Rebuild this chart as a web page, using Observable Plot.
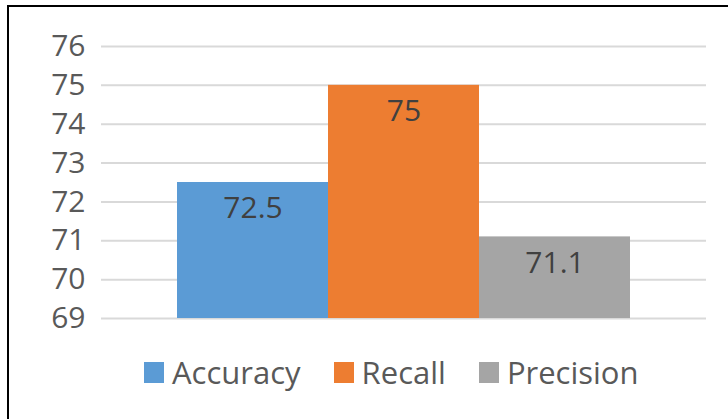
<!DOCTYPE html>
<html>
<head>
<meta charset="utf-8">
<script src="https://cdn.jsdelivr.net/npm/d3@7"></script>
<script src="https://cdn.jsdelivr.net/npm/@observablehq/plot@0.6"></script>
<style>
  html, body { margin: 0; padding: 0; background: #fff; }
  #wrap { position: relative; width: 728px; height: 419px; overflow: hidden; font-family: "Open Sans", sans-serif; }
  #frame { position: absolute; left: 7px; top: 5px; width: 800px; height: 500px; border-left: 2.5px solid #000; border-top: 2px solid #000; box-sizing: border-box; }
  #chart { position: absolute; left: 0; top: 0; }
  #legend { position: absolute; left: 144px; top: 351px; display: flex; align-items: center; gap: 33px; font-size: 31px; color: #595959; }
  .item { display: flex; align-items: center; gap: 8px; }
  .sw { width: 20px; height: 21px; display: inline-block; }
</style>
</head>
<body>
<div id="wrap">
  <div id="frame"></div>
  <div id="chart"></div>
  <div id="legend"></div>
</div>
<script>
const metrics = ["Accuracy", "Recall", "Precision"];
const values = [72.5, 75, 71.1];
const colors = ["#5B9BD5", "#ED7D31", "#A5A5A5"];
const yTicks = [69, 70, 71, 72, 73, 74, 75, 76];

const data = metrics.map((m, i) => ({metric: m, value: values[i]}));

const plot = Plot.plot({
  width: 728,
  height: 340,
  marginLeft: 101,
  marginRight: 22,
  marginTop: 46,
  marginBottom: 22,
  style: {fontFamily: "'Open Sans', sans-serif", background: "transparent"},
  x: {domain: metrics, paddingInner: 0, paddingOuter: 0.5, axis: null},
  y: {domain: [69, 76], ticks: yTicks, tickSize: 0, tickPadding: 16, label: null, tickFormat: d => String(d)},
  color: {domain: metrics, range: colors},
  marks: [
    Plot.ruleY(yTicks, {stroke: "#D9D9D9", strokeWidth: 2}),
    Plot.barY(data, {x: "metric", y1: 69, y2: "value", fill: "metric"}),
    Plot.text(data, {x: "metric", y: "value", text: d => String(d.value), dy: 26, fontSize: 30, fill: "#404040"})
  ]
});
plot.querySelectorAll("g[aria-label='y-axis tick label']").forEach(g => {
  g.setAttribute("font-size", "30");
  g.setAttribute("fill", "#595959");
});
document.getElementById("chart").appendChild(plot);

const legend = document.getElementById("legend");
metrics.forEach((m, i) => {
  const item = document.createElement("div");
  item.className = "item";
  const sw = document.createElement("span");
  sw.className = "sw";
  sw.style.background = colors[i];
  const t = document.createElement("span");
  t.textContent = m;
  item.appendChild(sw);
  item.appendChild(t);
  legend.appendChild(item);
});
</script>
</body>
</html>
